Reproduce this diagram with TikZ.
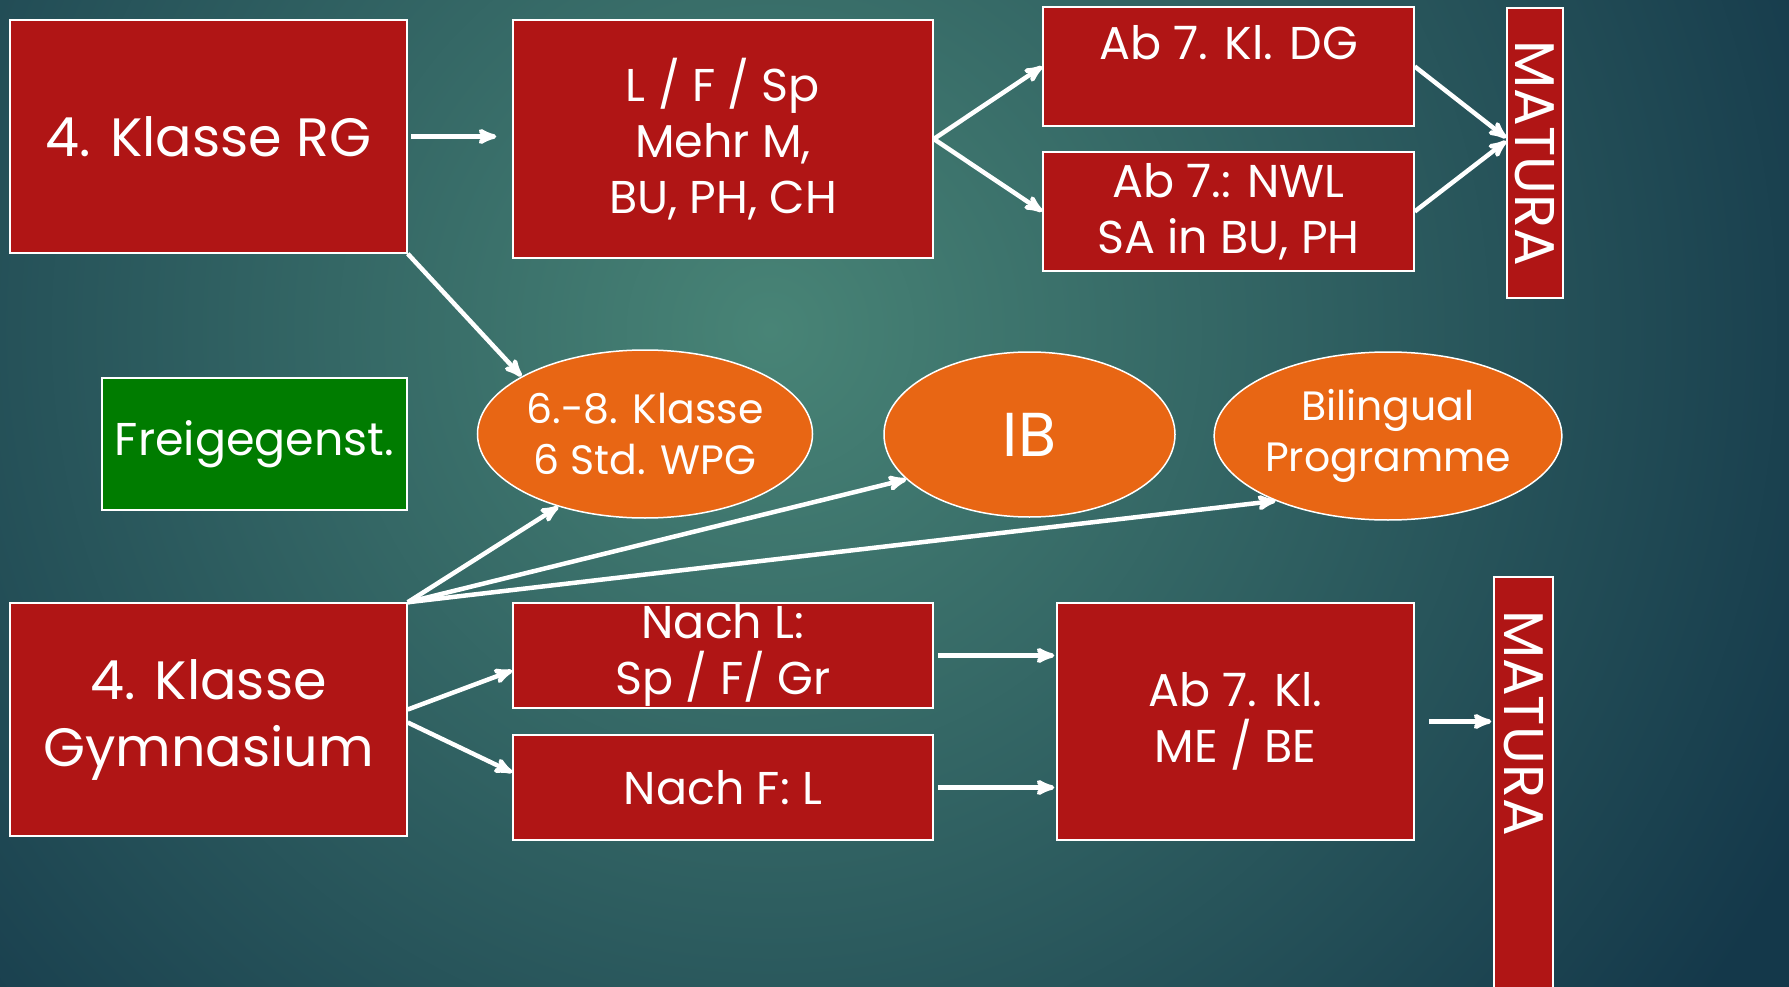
\documentclass[tikz,border=0pt]{standalone}
\usepackage{fontspec}
\setmainfont{Poppins}
\usepackage{tikz}
\usetikzlibrary{shapes, arrows, positioning}

\definecolor{bgin}{RGB}{72,132,118}
\definecolor{bgout}{RGB}{20,56,74}
\definecolor{boxred}{RGB}{176,21,21}
\definecolor{boxgreen}{RGB}{0,124,0}
\definecolor{ovalorange}{RGB}{232,102,20}

\begin{document}
\begin{tikzpicture}[x=1pt,y=-1pt,>=stealth',
    box/.style={rectangle, draw=white, line width=1.5pt, fill=boxred, text=white, inner sep=0pt, align=center},
    oval/.style={ellipse, draw=white, line width=1.5pt, fill=ovalorange, text=white, inner sep=0pt, align=center},
    big/.style={font=\fontsize{54}{67}\selectfont},
    mid/.style={font=\fontsize{46}{56}\selectfont},
    small/.style={font=\fontsize{41}{51}\selectfont},
    matura/.style={box, rotate=-90, font=\fontsize{56}{60}\selectfont}]
  \useasboundingbox (0,0) rectangle (1789,987);
  \clip (0,0) rectangle (1789,987);
  \fill[bgout] (0,0) rectangle (1789,987);
  \shade[inner color=bgin, outer color=bgout] (770,330) circle (1150pt);

  \node[box, big, minimum width=397pt, minimum height=233pt] (rg)    at (208.5,136.5) {4. Klasse RG};
  \node[box, mid, minimum width=420pt, minimum height=238pt] (lfs)   at (723,139)     {L / F / Sp\\Mehr M,\\BU, PH, CH};
  \node[box, mid, minimum width=371pt, minimum height=119pt, text depth=48pt] (dg) at (1228.5,66.5) {Ab 7. Kl. DG};
  \node[box, mid, minimum width=371pt, minimum height=119pt] (nwl)   at (1228.5,211.5) {Ab 7.: NWL\\SA in BU, PH};
  \node[matura, minimum width=290pt, minimum height=56pt]    (mat1)  at (1535,153)    {MATURA};

  \node[box, mid, fill=boxgreen, minimum width=305pt, minimum height=132pt] (frei) at (254.5,444) {Freigegenst.};
  \node[oval, small, minimum width=290pt, minimum height=168pt] (wpg) at (645,434)     {6.-8. Klasse\\6 Std. WPG};
  \node[oval, font=\fontsize{62}{70}\selectfont, minimum width=291pt, minimum height=165pt] (ib) at (1029.5,434.5) {IB};
  \node[oval, small, minimum width=292pt, minimum height=168pt] (bil) at (1388,436)    {Bilingual\\Programme};

  \node[box, big, minimum width=397pt, minimum height=233pt] (gym)   at (208.5,719.5) {4. Klasse\\Gymnasium};
  \node[box, mid, minimum width=420pt, minimum height=105pt] (nachl) at (723,655.5)   {Nach L:\\Sp / F/ Gr};
  \node[box, mid, minimum width=420pt, minimum height=105pt] (nachf) at (723,787.5)   {Nach F: L};
  \node[box, mid, minimum width=357pt, minimum height=237pt] (mebe)  at (1235.5,721.5) {Ab 7. Kl.\\ME / BE};
  \node[matura, minimum width=440pt, minimum height=59pt, text width=374pt, inner xsep=33pt, align=left] (mat2) at (1523.5,797) {MATURA};

  \path[->, white, line width=4.5pt]
        (rg.east) edge [shorten <=3pt, shorten >=16pt] (rg.east -| lfs.west)
        (lfs.east) edge (dg.west)
        (lfs.east) edge (nwl.west)
        (dg.east) edge ([yshift=15pt]mat1.south)
        (nwl.east) edge ([yshift=12pt]mat1.south)
        (rg.south east) edge (wpg.155)
        (gym.north east) edge (wpg.220)
        (gym.north east) edge (ib.200)
        (gym.north east) edge (bil.210)
        ([yshift=10pt]gym.east) edge ([yshift=-15pt]nachl.west)
        ([yshift=-3pt]gym.east) edge ([yshift=15pt]nachf.west)
        (nachl.east) edge [shorten <=4pt, shorten >=2pt] (nachl.east -| mebe.west)
        (nachf.east) edge [shorten <=4pt, shorten >=2pt] (nachf.east -| mebe.west)
        (mebe.east) edge [shorten <=14pt, shorten >=2pt] (mebe.east -| mat2.south);
\end{tikzpicture}
\end{document}
